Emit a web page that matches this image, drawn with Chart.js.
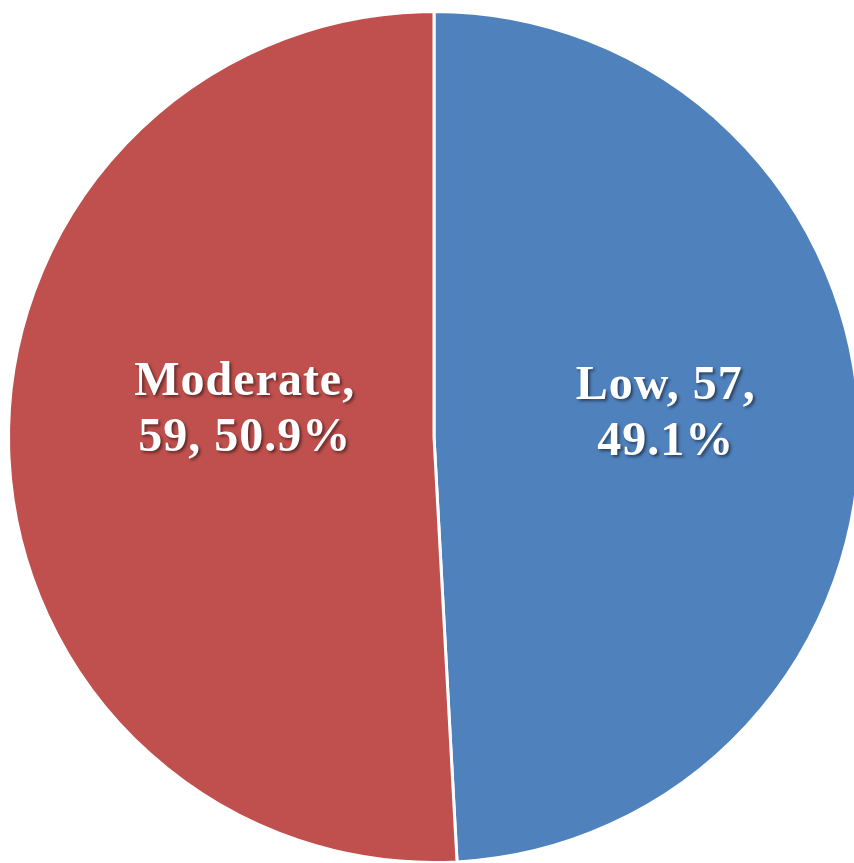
<!DOCTYPE html>
<html>
<head>
<meta charset="utf-8">
<script src="https://cdn.jsdelivr.net/npm/chart.js@4"></script>
<style>
  html, body { margin: 0; padding: 0; background: #fff; overflow: hidden; }
  #wrap { width: 854px; height: 863px; position: relative; overflow: hidden; }
  #box { position: absolute; left: 0; top: 0; width: 880px; height: 880px; }
</style>
</head>
<body>
<div id="wrap"><div id="box"><canvas id="pie-chart"></canvas></div></div>
<script>
// data
const categories = ['Low', 'Moderate'];
const counts = [57, 59];
const percents = ['49.1%', '50.9%'];

const colors = ['#4F81BD', '#C0504D'];

// draws the "Name, n, p%" text inside each slice
const sliceLabels = {
    id: 'sliceLabels',
    afterDatasetsDraw(chart, args, opts) {
        const ctx = chart.ctx;
        const meta = chart.getDatasetMeta(0);
        meta.data.forEach((arc, i) => {
            const mid = (arc.startAngle + arc.endAngle) / 2;
            const d = arc.outerRadius * opts.dist[i];
            const x = arc.x + Math.cos(mid) * d;
            const y = arc.y + opts.dy[i];
            const lines = opts.lines[i];
            ctx.save();
            ctx.font = 'bold 48px "Liberation Serif", "Times New Roman", serif';
            ctx.letterSpacing = '1px';
            ctx.textAlign = 'center';
            ctx.textBaseline = 'alphabetic';
            ctx.fillStyle = '#fff';
            ctx.shadowColor = 'rgba(0,0,0,0.5)';
            ctx.shadowOffsetX = 2;
            ctx.shadowOffsetY = 2;
            ctx.shadowBlur = 3;
            const lh = 56;
            lines.forEach((t, k) => {
                ctx.fillText(t, x, y + (k - (lines.length - 1) / 2) * lh);
            });
            ctx.restore();
        });
    }
};

new Chart(document.querySelector('#pie-chart').getContext('2d'), {
    type: 'pie',
    data: {
        labels: categories,
        datasets: [{
            data: counts,
            backgroundColor: colors,
            borderColor: '#fff',
            borderWidth: 3,
            hoverOffset: 0
        }]
    },
    options: {
        responsive: true,
        maintainAspectRatio: false,
        animation: false,
        layout: { padding: { left: 7, right: 19, top: 10, bottom: 16 } },
        plugins: {
            legend: { display: false },
            tooltip: { enabled: false },
            sliceLabels: {
                dist: [0.545, 0.445],
                dy: [-10, -14],
                lines: [
                    [categories[0] + ', ' + counts[0] + ',', percents[0]],
                    [categories[1] + ',', counts[1] + ', ' + percents[1]]
                ]
            }
        }
    },
    plugins: [sliceLabels]
});
</script>
</body>
</html>
